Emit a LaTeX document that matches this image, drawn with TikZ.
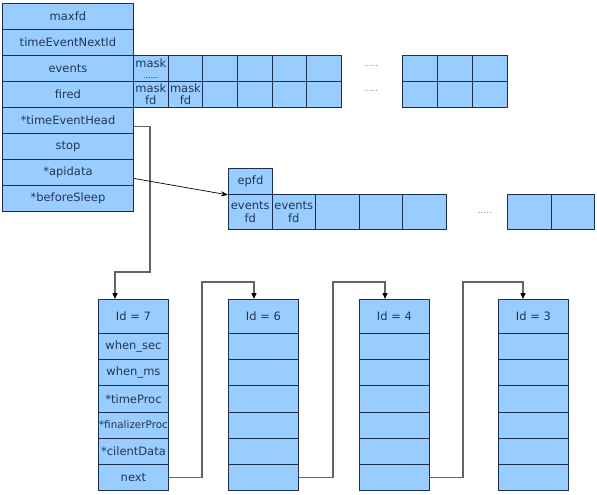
\documentclass[tikz,border=0pt]{standalone}
\usepackage{fontspec}
\setmainfont{DejaVu Sans}
\usetikzlibrary{arrows.meta}
\definecolor{cellfill}{RGB}{153,204,255}
\definecolor{celldraw}{RGB}{28,48,78}
\definecolor{txt}{RGB}{35,55,85}
\definecolor{conn}{RGB}{100,100,100}
\tikzset{
  cell/.style={draw=celldraw, fill=cellfill, line width=0.9pt, inner sep=0pt, anchor=north west,
    text=txt, font=\fontsize{11.5}{12.5}\selectfont, align=center},
  dotsnode/.style={text=gray, font=\fontsize{9}{10}\selectfont, inner sep=0pt},
  link/.style={draw=conn, line width=1.3pt, -{Triangle[length=6pt,width=5pt,color=black]}},
  ptr/.style={draw=black, line width=0.7pt, -{Stealth[length=7pt,width=5pt]}}
}
\begin{document}
\begin{tikzpicture}[x=1pt,y=-1pt]
\useasboundingbox (0,0) rectangle (597,495);
% main struct
\foreach \t [count=\i] in {maxfd, timeEventNextId, events, fired, *timeEventHead, stop, *apidata, *beforeSleep}
  \node[cell, minimum width=131pt, minimum height=26pt] (m\i) at (2,{3+26*(\i-1)}) {\t};
% events array
\node[cell, minimum width=34.67pt, minimum height=26pt] (ev1) at (133,55) {mask\\[-2pt]{\fontsize{8}{8}\selectfont ......}};
\foreach \i in {2,...,6}
  \node[cell, minimum width=34.67pt, minimum height=26pt] (ev\i) at ({133+34.67*(\i-1)},55) {};
\node[cell, minimum width=34.67pt, minimum height=26pt] (fi1) at (133,81) {mask\\fd};
\node[cell, minimum width=34.67pt, minimum height=26pt] (fi2) at (167.67,81) {mask\\fd};
\foreach \i in {3,...,6}
  \node[cell, minimum width=34.67pt, minimum height=26pt] (fi\i) at ({133+34.67*(\i-1)},81) {};
\node[dotsnode] (d1) at (371,66) {.....};
\node[dotsnode] (d2) at (371,91) {.....};
\foreach \i in {1,2,3}{
  \node[cell, minimum width=35pt, minimum height=26pt] (eg\i) at ({402+35*(\i-1)},55) {};
  \node[cell, minimum width=35pt, minimum height=26pt] (fg\i) at ({402+35*(\i-1)},81) {};
}
% epoll
\node[cell, minimum width=44pt, minimum height=26pt] (epfd) at (228,168) {epfd};
\node[cell, minimum width=43.6pt, minimum height=35pt] (ee1) at (228,194) {events\\fd};
\node[cell, minimum width=43.6pt, minimum height=35pt] (ee2) at (271.6,194) {events\\fd};
\foreach \i in {3,4,5}
  \node[cell, minimum width=43.6pt, minimum height=35pt] (ee\i) at ({228+43.6*(\i-1)},194) {};
\node[dotsnode] (d3) at (485,213) {.....};
\node[cell, minimum width=43.5pt, minimum height=35pt] (ee6) at (507,194) {};
\node[cell, minimum width=43.5pt, minimum height=35pt] (ee7) at (550.5,194) {};
% timers
\node[cell, minimum width=70pt, minimum height=34pt] (t1) at (98,299) {Id = 7};
\foreach \t [count=\k] in {when\_sec, when\_ms, *timeProc, {\fontsize{10.4}{12}\selectfont *finalizerProc}, *cilentData, next}
  \node[cell, minimum width=70pt, minimum height=26.17pt] (t1-\k) at (98,{333+26.17*(\k-1)}) {\t};
\foreach \x/\n [count=\j from 2] in {228/6, 359/4, 498/3}{
  \node[cell, minimum width=70pt, minimum height=34pt] (t\j) at (\x,299) {Id = \n};
  \foreach \k in {1,...,6}
    \node[cell, minimum width=70pt, minimum height=26.17pt] (t\j-\k) at (\x,{333+26.17*(\k-1)}) {};
}
% bend points
\coordinate (b0) at (150,272);
\coordinate (b1) at (202,282);
\coordinate (b2) at (333,282);
\coordinate (b3) at (463,282);
% connectors
\draw[link] ([yshift=-6pt]m5.east) -| (b0) -| ([xshift=17pt]t1.north west);
\draw[link] (t1-6.east) -| (b1) -| ([xshift=26pt]t2.north west);
\draw[link] (t2-6.east) -| (b2) -| ([xshift=26pt]t3.north west);
\draw[link] (t3-6.east) -| (b3) -| ([xshift=25pt]t4.north west);
\draw[ptr] ([yshift=-6pt]m7.east) -- (epfd.south west);
\end{tikzpicture}
\end{document}
